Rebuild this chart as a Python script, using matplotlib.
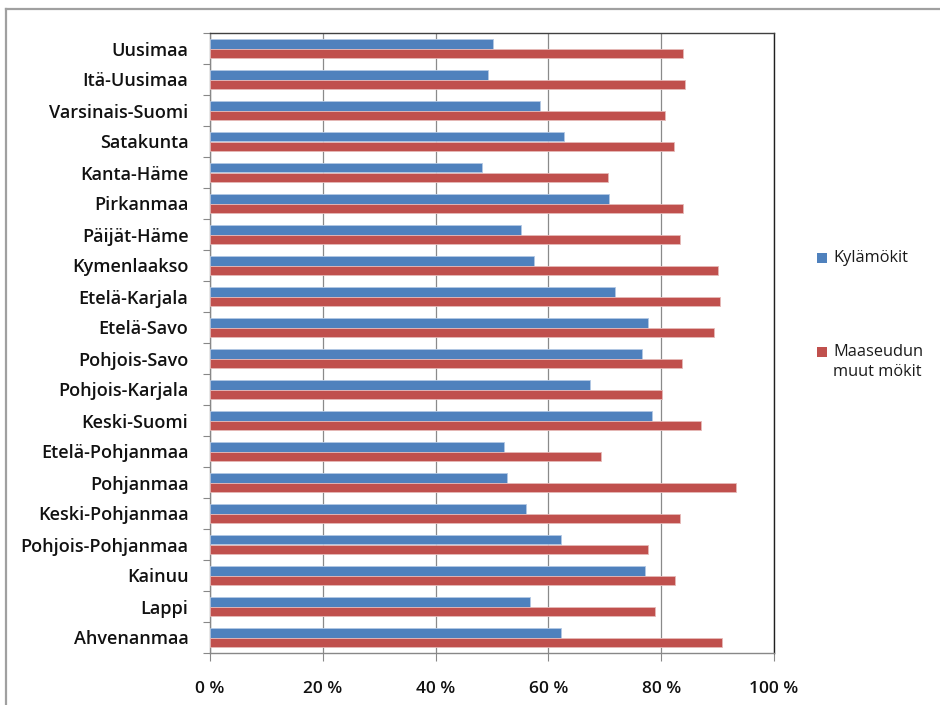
import numpy as np
import matplotlib
matplotlib.use('Agg')
import matplotlib.pyplot as plt
from matplotlib.patches import Rectangle
from matplotlib.lines import Line2D

regions = ['Uusimaa', 'Itä-Uusimaa', 'Varsinais-Suomi', 'Satakunta', 'Kanta-Häme',
           'Pirkanmaa', 'Päijät-Häme', 'Kymenlaakso', 'Etelä-Karjala', 'Etelä-Savo',
           'Pohjois-Savo', 'Pohjois-Karjala', 'Keski-Suomi', 'Etelä-Pohjanmaa',
           'Pohjanmaa', 'Keski-Pohjanmaa', 'Pohjois-Pohjanmaa', 'Kainuu', 'Lappi',
           'Ahvenanmaa']
kylamokit = [50.1, 49.3, 58.5, 62.8, 48.3, 70.7, 55.1, 57.4, 71.8, 77.7,
             76.6, 67.3, 78.4, 52.1, 52.6, 56.0, 62.3, 77.1, 56.7, 62.3]
muut_mokit = [83.8, 84.3, 80.7, 82.3, 70.5, 83.8, 83.4, 90.0, 90.4, 89.3,
              83.6, 80.1, 87.0, 69.3, 93.3, 83.4, 77.7, 82.5, 78.9, 90.8]
series_names = ['Kylämökit', 'Maaseudun\nmuut mökit']
xticks = [0, 20, 40, 60, 80, 100]

blue = '#4f81bd'
red = '#c0504d'
label_font = 'Open Sans'

fig = plt.figure(figsize=(9.4, 7.05), dpi=100)
W, H = 940, 705
ax = fig.add_axes([210 / W, 1 - 653 / H, (774 - 210) / W, (653 - 33) / H])

pos = np.arange(len(regions))
h = 0.32
ax.barh(pos - h / 2, kylamokit, height=h, color=blue, edgecolor='#b3c8e4', linewidth=0.6, zorder=3)
ax.barh(pos + h / 2, muut_mokit, height=h, color=red, edgecolor='#e6b9b8', linewidth=0.6, zorder=3)

ax.set_xlim(0, 100)
ax.set_ylim(len(regions) - 0.5, -0.5)

ax.set_xticks(xticks)
ax.set_xticklabels(['{} %'.format(t) for t in xticks], fontsize=12.5, fontweight='semibold',
                   family=label_font, color='#111111')
ax.set_yticks(pos)
ax.set_yticklabels(regions, fontsize=13, fontweight='semibold', family=label_font,
                   color='#111111')
ax.set_yticks(np.arange(len(regions) + 1) - 0.5, minor=True)
ax.tick_params(axis='y', which='major', length=0, pad=15.5)
ax.tick_params(axis='y', which='minor', length=5, width=0.8, color='#888888', direction='out')
ax.tick_params(axis='x', length=6, width=0.8, color='#888888', direction='out', pad=14)

ax.grid(axis='x', color='#8a8a8a', linewidth=0.9, zorder=0)
ax.set_axisbelow(True)
ax.spines['left'].set_color('#888888')
ax.spines['bottom'].set_color('#888888')
ax.spines['top'].set_color('#404040')
ax.spines['right'].set_color('#202020')
for s in ax.spines.values():
    s.set_linewidth(1.0)

# legend drawn at the right side of the plot area
for y_sq, y_txt, color, name in [(258, 258, blue, series_names[0]),
                                  (352, 362, red, series_names[1])]:
    fig.add_artist(Rectangle((817 / W, 1 - (y_sq + 5) / H), 10 / W, 10 / H,
                             facecolor=color, edgecolor='none', transform=fig.transFigure))
    fig.text(833 / W, 1 - y_txt / H, name, fontsize=11.8, family=label_font,
             color='#1a1a1a', va='center', ha='left', linespacing=1.25)

# outer chart frame
fig.add_artist(Line2D([6 / W, 6 / W], [0, 1 - 9 / H], color='#a0a0a0', lw=1.6,
                      transform=fig.transFigure))
fig.add_artist(Line2D([6 / W, 1], [1 - 9 / H, 1 - 9 / H], color='#a0a0a0', lw=1.6,
                      transform=fig.transFigure))

fig.savefig('out.png', dpi=100)
